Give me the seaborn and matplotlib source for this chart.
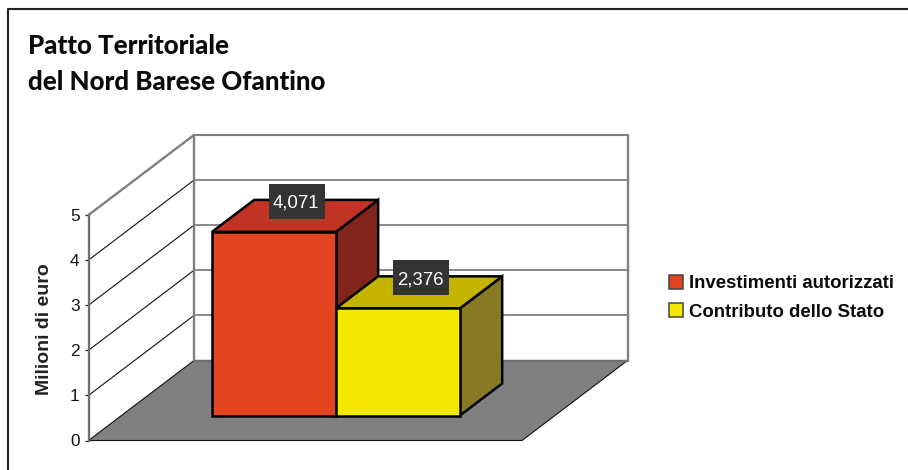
import matplotlib
matplotlib.use("Agg")
import matplotlib.pyplot as plt
import pandas as pd
import seaborn as sns
from matplotlib.lines import Line2D
from matplotlib.patches import Polygon, Rectangle, Patch
from matplotlib.transforms import Affine2D

# ---- data ----
categories = ["Investimenti autorizzati", "Contributo dello Stato"]
values = [4.071, 2.376]
value_labels = ["4,071", "2,376"]
y_ticks = [0, 1, 2, 3, 4, 5]
title_lines = ["Patto Territoriale", "del Nord Barese Ofantino"]
y_title = "Milioni di euro"

# ---- style ----
front_colors = ["#E2451F", "#F5E800"]
top_colors = ["#C13325", "#C4B400"]
side_colors = ["#82251D", "#887A24"]
W, H = 908, 470
SANS = ["Liberation Sans", "DejaVu Sans"]

sns.set_theme(style="white")
plt.rcParams["font.family"] = SANS

fig = plt.figure(figsize=(W / 100, H / 100), dpi=100, facecolor="white")
# Axes = the front plane of the 3D box
L, R, T, B = 88.5, 522, 215, 440.5
ax = fig.add_axes([L / W, 1 - B / H, (R - L) / W, (B - T) / H])
ax.patch.set_visible(False)

PX_X = 124.0                   # pixels per category
PX_Y = (B - T) / 5.0           # pixels per unit
DEPTH_X = 105.5 / PX_X
DEPTH_Y = 80.0 / PX_Y


def at(x, y, d=0.0):
    return (x + d * DEPTH_X, y + d * DEPTH_Y)


df = pd.DataFrame({"cat": categories, "val": values})
sns.barplot(data=df, x="cat", y="val", hue="cat", order=categories, hue_order=categories,
            palette=front_colors, saturation=1, width=1.0, dodge=False, legend=False,
            edgecolor="black", linewidth=1.8, ax=ax)

x_left = -0.5 - (212 - 33 - L) / PX_X
x_right = x_left + (R - L) / PX_X
ax.set_xlim(x_left, x_right)
ax.set_ylim(0, 5)

# floor
floor = Polygon([at(x_left, 0), at(x_right, 0), at(x_right, 0, 1), at(x_left, 0, 1)],
                closed=True, facecolor="#808080", edgecolor="#111111", linewidth=0.8,
                zorder=1, clip_on=False)
ax.add_patch(floor)

# walls: back wall and left wall grid
for v in y_ticks[1:]:
    is_top = v == y_ticks[-1]
    ax.plot(*zip(at(x_left, v, 1), at(x_right, v, 1)), color="#808080", lw=1.5 if is_top else 1.3,
            zorder=1.2, clip_on=False, solid_capstyle="butt")
    ax.plot(*zip(at(x_left, v, 0), at(x_left, v, 1)), color="#808080" if is_top else "#111111",
            lw=1.7 if is_top else 0.8, zorder=1.2, clip_on=False)
ax.plot(*zip(at(x_left, 0, 1), at(x_right, 0, 1)), color="#707070", lw=1.7, zorder=1.3, clip_on=False)
for xw in (x_left, x_right):
    ax.plot(*zip(at(xw, 0, 1), at(xw, 5, 1)), color="#808080", lw=1.7, zorder=1.2, clip_on=False)

# bars in depth
d0 = 25.0 / 80.0
d1 = d0 + 32.0 / 80.0
for i, (patch, val) in enumerate(zip(ax.patches[:2], values)):
    x0, x1 = i - 0.5, i + 0.5
    patch.set_x(x0 + d0 * DEPTH_X)
    patch.set_y(d0 * DEPTH_Y)
    patch.set_zorder(3.2 + i)
    patch.set_clip_on(False)
    side = Polygon([at(x1, 0, d0), at(x1, 0, d1), at(x1, val, d1), at(x1, val, d0)], closed=True,
                   facecolor=side_colors[i], edgecolor="black", linewidth=1.8, zorder=3 + i, clip_on=False)
    top = Polygon([at(x0, val, d0), at(x0, val, d1), at(x1, val, d1), at(x1, val, d0)], closed=True,
                  facecolor=top_colors[i], edgecolor="black", linewidth=1.8, zorder=3 + i, clip_on=False)
    ax.add_patch(side)
    ax.add_patch(top)

fig.canvas.draw()
# value labels: dark box with white text
for i, (val, lab) in enumerate(zip(values, value_labels)):
    px, py = ax.transData.transform(at(i, val, d0))
    cx, cy = px + 23, py + 30.5
    ax.add_patch(Rectangle((-28, -17.5), 56, 35, transform=Affine2D().translate(cx, cy),
                           facecolor="#333333", edgecolor="none", zorder=8, clip_on=False))
    ax.annotate(lab, xy=(cx - 1, cy), xycoords="figure pixels", ha="center", va="center_baseline",
                color="white", fontsize=13.4, zorder=9)

# axis
for s in ("top", "right", "bottom"):
    ax.spines[s].set_visible(False)
ax.spines["left"].set_color("#707070")
ax.spines["left"].set_linewidth(1.7)
ax.set_xticks([])
ax.set_yticks(y_ticks)
ax.tick_params(axis="y", left=True, length=3, width=0.9, color="#111111", pad=3.5,
               labelsize=12.4, labelcolor="#111111")
ax.set_xlabel("")
ax.set_ylabel(y_title, fontsize=14, fontweight="bold", color="#222222")
ax.yaxis.set_label_coords((53 - L) / (R - L), (B - 329) / (B - T))

# title
TITLE_FONT = ["Lato", "Liberation Sans"]
fig.text(28 / W, 1 - 54 / H, title_lines[0], fontsize=18.6, fontweight=900, color="#0a0a0a",
         family=TITLE_FONT, va="baseline")
fig.text(28 / W, 1 - 90 / H, title_lines[1], fontsize=18.6, fontweight=900, color="#0a0a0a",
         family=TITLE_FONT, va="baseline")

# legend
handles = [Patch(facecolor=c, edgecolor="#444444", linewidth=1.1) for c in front_colors]
fs = 13.4
px_per_em = fs * 100 / 72
fig.legend(handles, categories, loc="upper left", bbox_to_anchor=(669 / W, 1 - 275 / H),
           frameon=False, prop={"weight": "bold", "size": fs, "family": SANS},
           handlelength=14 / px_per_em, handleheight=14 / px_per_em,
           handletextpad=6 / px_per_em, labelspacing=0.6, borderpad=0, borderaxespad=0,
           labelcolor="#0a0a0a")

# outer frame (top and left only)
fig.add_artist(Line2D([7.5 / W, 7.5 / W, 1], [0, 1 - 9 / H, 1 - 9 / H], transform=fig.transFigure,
                      color="#222222", lw=1.5))

fig.savefig("out.png", dpi=100, facecolor="white")
